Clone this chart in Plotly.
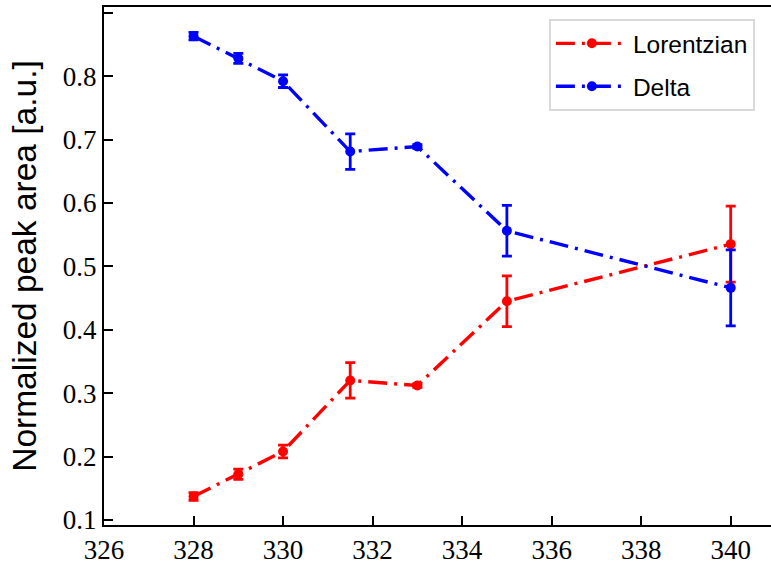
import plotly.graph_objects as go

temps = [328, 329, 330, 331.5, 333, 335, 340]
lorentzian = [0.137, 0.172, 0.208, 0.320, 0.312, 0.445, 0.535]
lorentzian_err = [0.006, 0.008, 0.010, 0.028, 0.003, 0.040, 0.060]
delta = [0.863, 0.828, 0.792, 0.681, 0.689, 0.556, 0.466]
delta_err = [0.006, 0.008, 0.010, 0.028, 0.003, 0.040, 0.060]

x_ticks = [326, 328, 330, 332, 334, 336, 338, 340]
y_ticks = [0.1, 0.2, 0.3, 0.4, 0.5, 0.6, 0.7, 0.8, 0.9]

dash = "19px,7px,3px,7px"

fig = go.Figure()
for name, vals, errs, col in [("Lorentzian", lorentzian, lorentzian_err, "#ff0000"),
                              ("Delta", delta, delta_err, "#0000ff")]:
    fig.add_trace(go.Scatter(
        x=temps, y=vals, name=name, mode="lines+markers", legendgroup=name,
        line=dict(color=col, width=3.4, dash=dash),
        marker=dict(color=col, size=10),
        error_y=dict(type="data", array=errs, visible=True, color=col,
                     thickness=2.8, width=5),
    ))

serif = "Liberation Serif"
tick_font = dict(family=serif, size=27, color="#000000")
fig.update_layout(
    width=771, height=565,
    font=dict(family=serif, size=27, color="#000000"),
    margin=dict(l=104, r=0, t=7, b=40),
    paper_bgcolor="white", plot_bgcolor="white",
    showlegend=True,
    legend=dict(x=0.667, y=0.977, xanchor="left", yanchor="top",
                bgcolor="white", bordercolor="#d9d9d9", borderwidth=2,
                font=dict(family="Liberation Sans", size=24.5, color="black"),
                itemwidth=72, tracegroupgap=8),
)
fig.update_xaxes(range=[326, 340.9], tickmode="array", tickvals=x_ticks,
                 showgrid=False, zeroline=False,
                 showline=True, linecolor="black", linewidth=2, mirror=True,
                 ticks="inside", ticklen=9, tickwidth=1.6, tickcolor="black",
                 tickfont=tick_font)
fig.update_yaxes(range=[0.092, 0.909], tickmode="array", tickvals=y_ticks,
                 tickformat=".1f",
                 showgrid=False, zeroline=False,
                 showline=True, linecolor="black", linewidth=2,
                 ticks="inside", ticklen=9, tickwidth=1.6, tickcolor="black",
                 tickfont=tick_font,
                 title=dict(text="Normalized peak area [a.u.]",
                            font=dict(family="Liberation Sans", size=33.5, color="black"),
                            standoff=16))

fig.write_html("out.html")
